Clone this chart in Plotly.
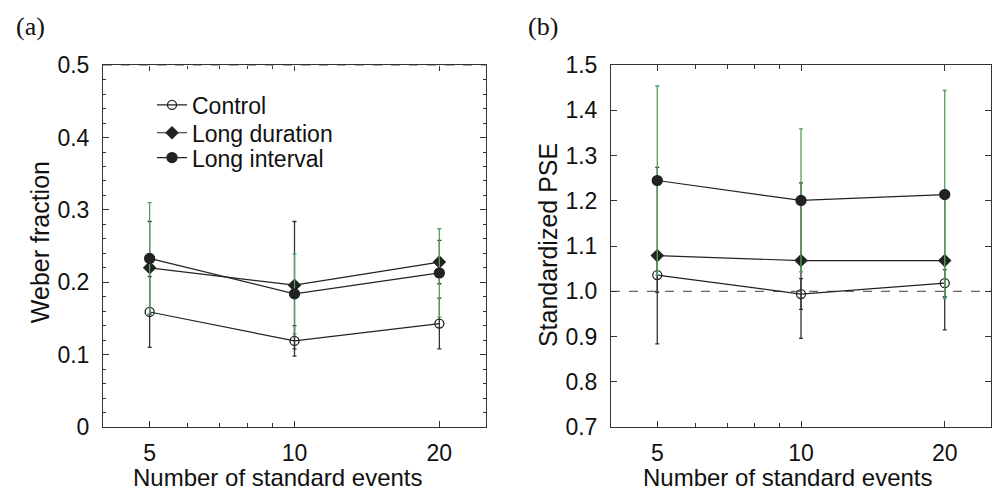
import plotly.graph_objects as go

# ---- data ----
n_events = [5, 10, 20]

weber_control = [0.159, 0.119, 0.143]
weber_control_err = [0.049, 0.021, 0.035]
weber_long_dur = [0.220, 0.196, 0.228]
weber_long_dur_err = [0.064, 0.088, 0.030]
weber_long_int = [0.233, 0.184, 0.213]
weber_long_int_err = [0.077, 0.055, 0.061]

pse_control = [1.036, 0.994, 1.018]
pse_control_err = [0.038, 0.034, 0.030]
pse_long_dur = [1.079, 1.068, 1.068]
pse_long_dur_err = [0.195, 0.172, 0.153]
pse_long_int = [1.245, 1.201, 1.214]
pse_long_int_err = [0.209, 0.158, 0.230]

series_names = ["Control", "Long duration", "Long interval"]
x_tick_vals = [5, 10, 20]
x_tick_text = ["5", "10", "20"]
x_minor_vals = [6, 7, 8, 9]
weber_ticks = [0, 0.1, 0.2, 0.3, 0.4, 0.5]
weber_tick_text = ["0", "0.1", "0.2", "0.3", "0.4", "0.5"]
pse_ticks = [0.7, 0.8, 0.9, 1.0, 1.1, 1.2, 1.3, 1.4, 1.5]
pse_tick_text = ["0.7", "0.8", "0.9", "1.0", "1.1", "1.2", "1.3", "1.4", "1.5"]

# ---- styles ----
W, H = 993, 494
LINE = "#222222"
ERR_DARK = "#333333"
GREEN = "#52a064"
FONT = "Liberation Sans, Arial, sans-serif"
TXT = "#111111"
styles = [
    dict(symbol="circle-open", size=9, color=LINE, err=ERR_DARK),
    dict(symbol="diamond", size=9, color=LINE, err=ERR_DARK),
    dict(symbol="circle", size=10, color=LINE, err=GREEN),
]
legend_ids = ["legend", "legend2", "legend3"]
legend_centers_px = [104, 132, 157]

# the photographed page maps requested vertical pixel y to about 0.953*y + 11.5;
# compensate so that target pixel positions land where intended
VS, VOFF = 0.953, 11.5

def px_x(p):
    return p / W

def px_y(p):
    return 1 - ((p - VOFF) / VS) / H

fig = go.Figure()

panels = [
    ("x", "y", [(weber_control, weber_control_err),
                (weber_long_dur, weber_long_dur_err),
                (weber_long_int, weber_long_int_err)], True),
    ("x2", "y2", [(pse_control, pse_control_err),
                  (pse_long_dur, pse_long_dur_err),
                  (pse_long_int, pse_long_int_err)], False),
]
for xa, ya, data, show in panels:
    for i, (name, (vals, errs), st) in enumerate(zip(series_names, data, styles)):
        fig.add_trace(go.Scatter(
            x=n_events, y=vals, name=name, mode="lines+markers",
            xaxis=xa, yaxis=ya, showlegend=show, legend=legend_ids[i],
            line=dict(color=st["color"], width=1.2),
            marker=dict(symbol=st["symbol"], size=st["size"], color=st["color"],
                        line=dict(color=st["color"], width=1.3)),
            error_y=dict(type="data", array=errs, visible=True,
                         color=st["err"], thickness=1.3, width=2),
        ))

axis_common = dict(
    showline=True, linecolor="#333333", linewidth=1, mirror="allticks",
    ticks="inside", ticklen=6, tickcolor="#333333", showgrid=False, zeroline=False,
    tickfont=dict(family=FONT, size=23, color=TXT),
)
xcommon = dict(axis_common, type="log", range=[0.60206, 1.39794],
               tickvals=x_tick_vals, ticktext=x_tick_text, ticklabelstandoff=5,
               minor=dict(tickvals=x_minor_vals, ticks="inside", ticklen=4,
                          tickcolor="#333333", showgrid=False))
ycommon = dict(axis_common, ticklabelstandoff=8)

legend_common = dict(xanchor="left", yanchor="middle", bgcolor="rgba(0,0,0,0)",
                     borderwidth=0, font=dict(family=FONT, size=23, color=TXT),
                     itemwidth=30)

layout_kw = dict(
    width=W, height=H, margin=dict(l=0, r=0, t=0, b=0),
    paper_bgcolor="white", plot_bgcolor="white",
    xaxis=dict(xcommon, domain=[px_x(103), px_x(486)], anchor="y"),
    yaxis=dict(ycommon, domain=[px_y(428), px_y(64)], anchor="x",
               range=[0, 0.5], tickvals=weber_ticks, ticktext=weber_tick_text,
               minor=dict(dtick=0.02, ticks="inside", ticklen=3,
                          tickcolor="#333333", showgrid=False)),
    xaxis2=dict(xcommon, domain=[px_x(611), px_x(991)], anchor="y2"),
    yaxis2=dict(ycommon, domain=[px_y(428), px_y(64)], anchor="x2",
                range=[0.7, 1.5], tickvals=pse_ticks, ticktext=pse_tick_text),
    showlegend=True,
)
for lid, cy in zip(legend_ids, legend_centers_px):
    layout_kw[lid] = dict(legend_common, x=px_x(152), y=px_y(cy))
fig.update_layout(**layout_kw)

# dashed top edge of panel (a) and reference line at 1.0 in panel (b)
fig.add_shape(type="line", xref="x domain", yref="y", x0=0, x1=1, y0=0.5, y1=0.5,
              line=dict(color="white", width=2), layer="above")
fig.add_shape(type="line", xref="x domain", yref="y", x0=0, x1=1, y0=0.5, y1=0.5,
              line=dict(color="#555555", width=1, dash="dash"), layer="above")
fig.add_shape(type="line", xref="x2 domain", yref="y2", x0=0, x1=1, y0=1.0, y1=1.0,
              line=dict(color="#666666", width=1.3, dash="dash"), layer="below")

annots = [
    dict(text="(a)", x=px_x(30), y=px_y(25), font=dict(family="Liberation Serif, serif", size=26)),
    dict(text="(b)", x=px_x(543), y=px_y(25), font=dict(family="Liberation Serif, serif", size=26)),
    dict(text="Weber fraction", x=px_x(40), y=px_y(242), textangle=-90,
         font=dict(family=FONT, size=25)),
    dict(text="Standardized PSE", x=px_x(548), y=px_y(245), textangle=-90,
         font=dict(family=FONT, size=25)),
    dict(text="Number of standard events", x=px_x(278), y=px_y(479),
         font=dict(family=FONT, size=24)),
    dict(text="Number of standard events", x=px_x(788), y=px_y(479),
         font=dict(family=FONT, size=24)),
]
for a in annots:
    a["font"]["color"] = TXT
    fig.add_annotation(xref="paper", yref="paper", showarrow=False,
                       xanchor="center", yanchor="middle", **a)

fig.write_html(
    "out.html",
    config={"displayModeBar": False},
    post_script="document.body.style.margin='0';document.body.style.overflow='hidden';",
)
